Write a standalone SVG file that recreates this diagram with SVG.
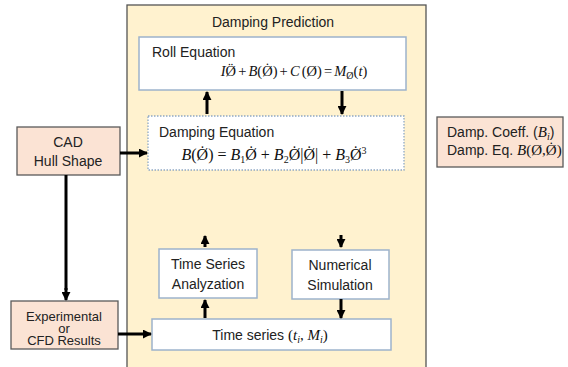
<svg xmlns="http://www.w3.org/2000/svg" width="568" height="367" viewBox="0 0 568 367">
<defs>
<marker id="ah" viewBox="0 0 10 10" refX="9" refY="5" markerWidth="3" markerHeight="3" orient="auto" markerUnits="strokeWidth">
<path d="M0,0 L10,5 L0,10 Z" fill="#000"/>
</marker>
<style>
.t{font-family:"Liberation Sans",Arial,sans-serif;font-size:14px;fill:#222}
.m{font-family:"Liberation Serif","Times New Roman",serif;font-size:16px;fill:#111}
.i{font-style:italic}
.sub{font-size:10px}
.wb{fill:#fff;stroke:#9DB3CC;stroke-width:1.5}
.pb{fill:#FBE3D4;stroke:#5a5a5a;stroke-width:1.3}
.ar{stroke:#000;stroke-width:3;fill:none;marker-end:url(#ah)}
.ln{stroke:#000;stroke-width:3;fill:none}
.s{font-size:13px}
</style>
</defs>
<rect width="568" height="367" fill="#fff"/>
<g id="panel">
<rect x="127" y="5" width="299" height="366" fill="#FFF2CF" stroke="#555" stroke-width="1.3"/>
<text class="t" x="273" y="27" text-anchor="middle">Damping Prediction</text>
</g>
<g id="roll">
<rect class="wb" x="139" y="37" width="267" height="53"/>
<text class="t" x="152" y="57">Roll Equation</text>
<text class="m" style="font-size:14.5px;word-spacing:-1.5px" x="294" y="76" text-anchor="middle"><tspan class="i">I</tspan>Ø<tspan dx="-7.65" dy="-3.1">¨</tspan><tspan dx="2.82" dy="3.1"> + </tspan><tspan class="i">B</tspan>(Ø<tspan dx="-7.65" dy="-3.1">˙</tspan><tspan dx="2.82" dy="3.1">) + </tspan><tspan class="i">C</tspan> (Ø) = <tspan class="i">M</tspan><tspan class="sub" dy="3">Ø</tspan><tspan dy="-3">(</tspan><tspan class="i">t</tspan>)</text>
</g>
<g id="damping">
<rect x="148" y="116" width="256" height="54" fill="#fff" stroke="#8FA8C4" stroke-width="1.3" stroke-dasharray="1.5,1.5"/>
<text class="t" x="159" y="137">Damping Equation</text>
<text class="m" x="274" y="160" text-anchor="middle"><tspan class="i">B</tspan>(Ø<tspan dx="-8.44" dy="-3.5">˙</tspan><tspan dx="3.11" dy="3.5">) = </tspan><tspan class="i">B</tspan><tspan class="sub" dy="3">1</tspan><tspan dy="-3">Ø</tspan><tspan dx="-8.44" dy="-3.5">˙</tspan><tspan dx="3.11" dy="3.5"> + </tspan><tspan class="i">B</tspan><tspan class="sub" dy="3">2</tspan><tspan dy="-3">Ø</tspan><tspan dx="-8.44" dy="-3.5">˙</tspan><tspan dx="3.11" dy="3.5">|Ø</tspan><tspan dx="-8.44" dy="-3.5">˙</tspan><tspan dx="3.11" dy="3.5">| + </tspan><tspan class="i">B</tspan><tspan class="sub" dy="3">3</tspan><tspan dy="-3">Ø</tspan><tspan dx="-8.44" dy="-3.5">˙</tspan><tspan class="sub" dx="3.11" dy="-2.5">3</tspan></text>
</g>
<g id="cad">
<rect class="pb" x="17" y="127" width="103" height="48"/>
<text class="t" x="68" y="147" text-anchor="middle">CAD</text>
<text class="t" x="68" y="166" text-anchor="middle">Hull Shape</text>
</g>
<g id="result">
<rect class="pb" x="437" y="117" width="126" height="50"/>
<text class="t" x="447" y="137">Damp. Coeff. (<tspan class="m i" style="font-size:15px">B</tspan><tspan class="m i" style="font-size:10px" dy="3">i</tspan><tspan dy="-3">)</tspan></text>
<text class="t" x="447" y="155">Damp. Eq. <tspan class="m" style="font-size:15px"><tspan class="i">B</tspan>(Ø,Ø<tspan dx="-7.92" dy="-3.2">˙</tspan><tspan dx="2.92" dy="3.2">)</tspan></tspan></text>
</g>
<g id="experimental">
<rect class="pb" x="11" y="301" width="107" height="48"/>
<text class="t s" x="64" y="321" text-anchor="middle">Experimental</text>
<text class="t s" x="64" y="333" text-anchor="middle">or</text>
<text class="t s" x="64" y="345" text-anchor="middle">CFD Results</text>
</g>
<g id="analyzation">
<rect class="wb" x="159" y="249" width="98" height="49"/>
<text class="t" x="208" y="269" text-anchor="middle">Time Series</text>
<text class="t" x="208" y="289" text-anchor="middle">Analyzation</text>
</g>
<g id="simulation">
<rect class="wb" x="292" y="250" width="97" height="49"/>
<text class="t" x="340" y="270" text-anchor="middle">Numerical</text>
<text class="t" x="340" y="290" text-anchor="middle">Simulation</text>
</g>
<g id="timeseries">
<rect class="wb" x="152" y="319" width="239" height="31"/>
<text class="t" x="270" y="340" text-anchor="middle">Time series  <tspan class="m" style="font-size:15px">(<tspan class="i">t</tspan><tspan class="i" style="font-size:10px" dy="3">i</tspan><tspan dy="-3">, </tspan><tspan class="i">M</tspan><tspan class="i" style="font-size:10px" dy="3">i</tspan><tspan dy="-3">)</tspan></tspan></text>
</g>
<g id="connectors">
<path class="ar" d="M207,114 V92"/>
<path class="ar" d="M342,91 V114"/>
<path class="ar" d="M120,153 H147"/>
<path class="ln" d="M66,175 V290"/>
<path class="ar" d="M66,288 V300"/>
<path class="ar" d="M118,334 H151"/>
<path class="ar" d="M205,318 V300"/>
<path class="ar" d="M341,299 V318"/>
<path class="ar" d="M205,247 V236"/>
<path class="ar" d="M341,235 V247"/>
</g>
</svg>
